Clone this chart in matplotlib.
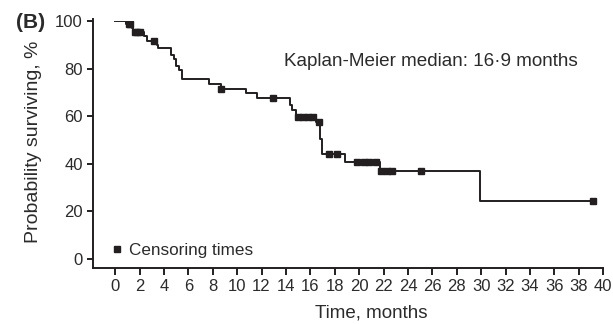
import numpy as np
import matplotlib
matplotlib.use("Agg")
import matplotlib.pyplot as plt

plt.rcParams['font.family'] = ['Liberation Sans', 'DejaVu Sans']

# Kaplan-Meier step curve (event times in months, survival in %)
event_t = [0, 0.9, 1.35, 1.5, 2.4, 2.6, 3.4, 3.5, 4.6, 4.8, 5.0, 5.2, 5.5,
           7.7, 8.65, 10.7, 11.6, 14.3, 14.5, 14.8, 16.45, 16.75, 16.95,
           18.85, 21.7, 29.9]
surv = [100, 98.6, 96.9, 95.2, 93.6, 91.6, 90.1, 88.8, 85.8, 84.1, 81.3,
        79.4, 75.6, 73.6, 71.5, 69.6, 67.8, 64.5, 62.4, 59.6, 57.4, 50.3,
        44.0, 40.6, 36.9, 24.3]
end_t = 39.3

# censoring times (months)
censor_t = [1.1, 1.25, 1.6, 1.8, 2.0, 3.2, 8.7, 12.9, 15.0, 15.4, 15.8,
            16.2, 16.7, 17.5, 18.2, 19.8, 20.4, 20.8, 21.4, 21.8, 22.3,
            22.7, 25.1, 39.2]

x_ticks = list(range(0, 41, 2))
y_ticks = [0, 20, 40, 60, 80, 100]

ink = '#231f20'
txt = '#2b2b2b'

fig = plt.figure(figsize=(6.13, 3.24), dpi=100)
ax = fig.add_axes([0.152, 0.173, 0.832, 0.762])

xs = np.array(event_t + [end_t])
ys = np.array(surv + [surv[-1]])
ax.step(xs, ys, where='post', color=ink, lw=1.4)

idx = np.searchsorted(event_t, censor_t, side='right') - 1
cy = np.array(surv)[idx]
ax.plot(censor_t, cy, 's', color=ink, ms=3.8, ls='none', label='Censoring times')

ax.set_xlim(-1.8, 40)
ax.set_ylim(-3.8, 100)
ax.set_xticks(x_ticks)
ax.set_yticks(y_ticks)
ax.spines['top'].set_visible(False)
ax.spines['right'].set_visible(False)
ax.spines['left'].set_bounds(-3.8, 100.7)
ax.spines['bottom'].set_bounds(-1.8, 40)
for s in ('left', 'bottom'):
    ax.spines[s].set_linewidth(1.4)
    ax.spines[s].set_color(ink)
ax.tick_params(axis='both', colors=ink, width=1.4, labelsize=12,
               labelcolor=txt)
ax.tick_params(axis='x', length=5, pad=3)
ax.tick_params(axis='y', length=4.5, pad=3)

ax.set_xlabel('Time, months', fontsize=13.5, color=txt)
ax.xaxis.set_label_coords(0.546, -0.148)
ax.set_ylabel('Probability surviving, %', fontsize=14, color=txt)
ax.yaxis.set_label_coords(-0.1, 0.51)

ax.text(13.8, 83, 'Kaplan-Meier median: 16·9 months', fontsize=13.6,
        color=txt, va='center', ha='left')
fig.text(0.026, 0.93, '(B)', fontsize=15, fontweight='bold', color=txt,
         va='center', ha='left')

ax.legend(loc='center left', bbox_to_anchor=(0.038, 0.07), frameon=False,
          handlelength=0.5, handletextpad=0.45, fontsize=12.3,
          borderaxespad=0, borderpad=0, labelcolor=txt)

fig.savefig('out.png', dpi=100)
